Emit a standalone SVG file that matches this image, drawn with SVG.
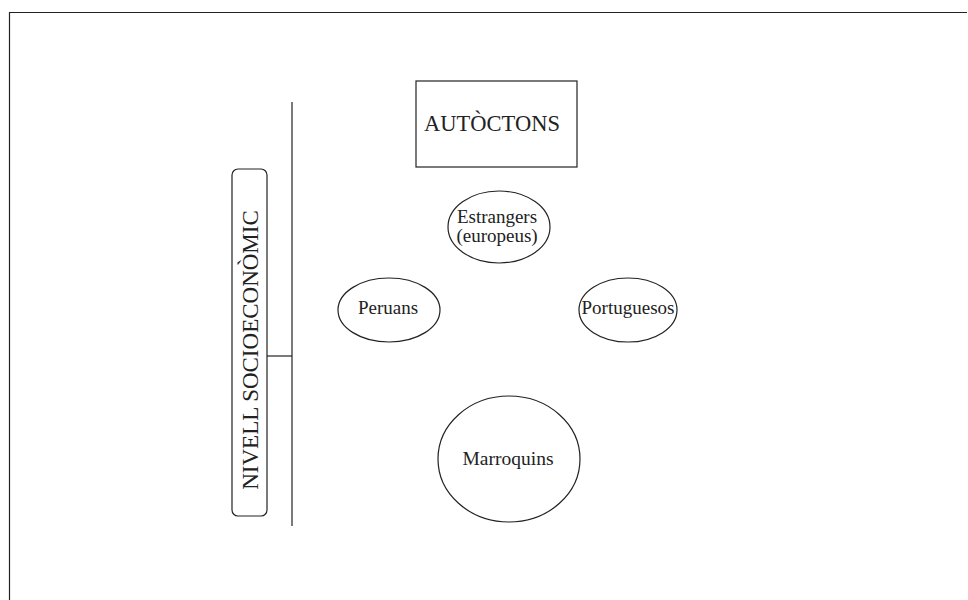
<svg xmlns="http://www.w3.org/2000/svg" width="968" height="600" viewBox="0 0 968 600">
<style>
.s{fill:none;stroke:#222;stroke-width:1.2}
.t{font-family:"Liberation Serif","Times New Roman",serif;fill:#222;text-anchor:middle}
</style>
<rect width="968" height="600" fill="#fff"/>
<path class="s" d="M9.5,600 V12.5 H967" stroke-width="2"/>
<g id="connectors">
<line class="s" x1="292" y1="102" x2="292" y2="526"/>
<line class="s" x1="267" y1="356" x2="292" y2="356"/>
</g>
<g id="nivell">
<rect class="s" x="232" y="169" width="35" height="347" rx="6"/>
<text class="t" font-size="23" transform="translate(258,350) rotate(-90)">NIVELL SOCIOECONÒMIC</text>
</g>
<g id="autoctons">
<rect class="s" x="416" y="81" width="161" height="86"/>
<text class="t" font-size="22.5" x="492" y="131">AUTÒCTONS</text>
</g>
<g id="estrangers">
<ellipse class="s" cx="499" cy="227" rx="51" ry="36"/>
<text class="t" font-size="19" x="497" y="223">Estrangers</text>
<text class="t" font-size="19" x="497" y="242">(europeus)</text>
</g>
<g id="peruans">
<ellipse class="s" cx="389" cy="310" rx="51" ry="32"/>
<text class="t" font-size="19" x="388" y="314">Peruans</text>
</g>
<g id="portuguesos">
<ellipse class="s" cx="628" cy="310" rx="49" ry="32"/>
<text class="t" font-size="19" x="628" y="314">Portuguesos</text>
</g>
<g id="marroquins">
<ellipse class="s" cx="509" cy="459" rx="71" ry="63"/>
<text class="t" font-size="19.5" x="508" y="465">Marroquins</text>
</g>
</svg>
